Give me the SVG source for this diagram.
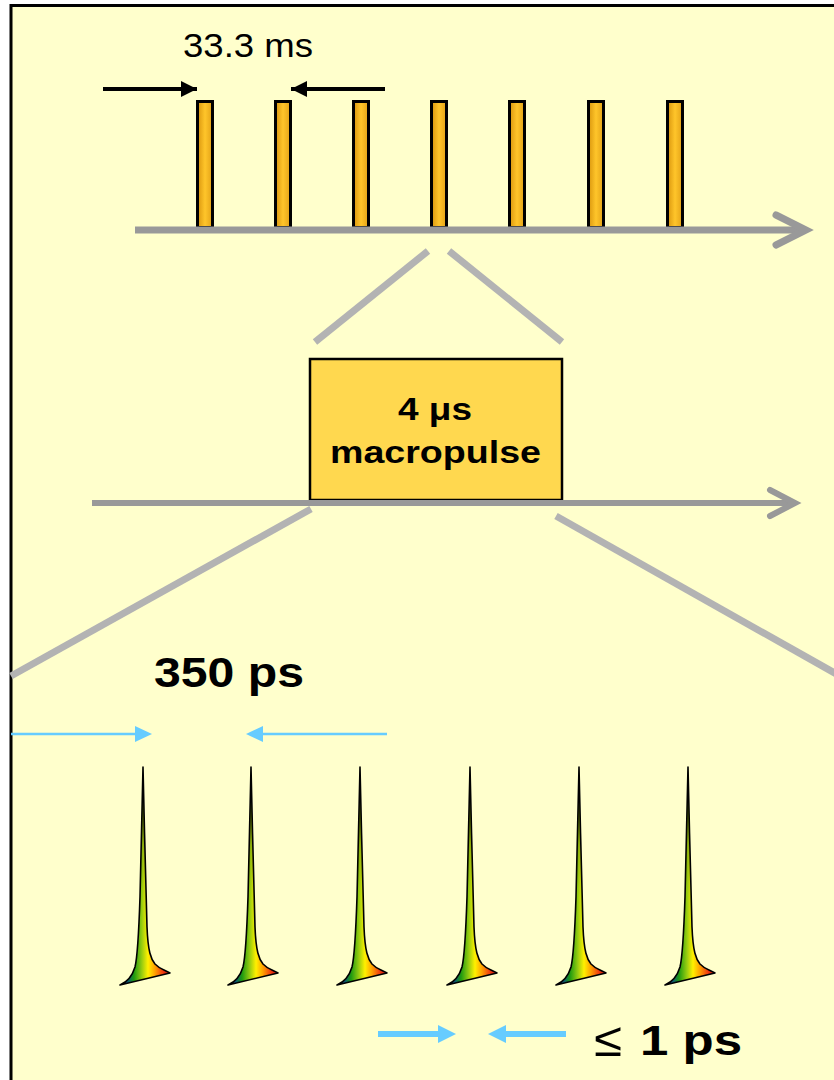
<svg xmlns="http://www.w3.org/2000/svg" width="834" height="1080" viewBox="0 0 834 1080">
  <style>
    .axis { stroke: #999999; stroke-width: 7; fill: none; stroke-linecap: butt; }
    .head { stroke: #999999; stroke-width: 7; fill: none; stroke-linecap: round; stroke-linejoin: miter; }
    .zoom { stroke: #B3B3B3; stroke-width: 7; fill: none; }
    .bar { fill: url(#barFill); stroke: #000000; stroke-width: 3; }
    .peak { fill: url(#rainbow); stroke: none; }
    .peakShade { fill: url(#shade); stroke: #000000; stroke-width: 1.6; stroke-linejoin: round; }
    .label { font-family: "Liberation Sans", Arial, sans-serif; fill: #000000; }
    .bold { font-weight: bold; }
    .blue { stroke: #66CCFF; fill: none; }
  </style>
  <defs>
    <linearGradient id="barFill" x1="0" y1="0" x2="1" y2="0">
      <stop offset="0" stop-color="#D9960E"/>
      <stop offset="0.5" stop-color="#FFC52A"/>
      <stop offset="1" stop-color="#E3A217"/>
    </linearGradient>
    <linearGradient id="rainbow" x1="0" y1="0" x2="1" y2="0">
      <stop offset="0" stop-color="#1A1AB0"/>
      <stop offset="0.16" stop-color="#0A5A70"/>
      <stop offset="0.28" stop-color="#1E9A10"/>
      <stop offset="0.44" stop-color="#9ACD10"/>
      <stop offset="0.56" stop-color="#FFF000"/>
      <stop offset="0.7" stop-color="#FFA000"/>
      <stop offset="0.86" stop-color="#F03A10"/>
      <stop offset="1" stop-color="#C01010"/>
    </linearGradient>
    <linearGradient id="shade" x1="0" y1="0" x2="0" y2="1">
      <stop offset="0" stop-color="#000000" stop-opacity="0.95"/>
      <stop offset="0.12" stop-color="#000000" stop-opacity="0.6"/>
      <stop offset="0.4" stop-color="#000000" stop-opacity="0.12"/>
      <stop offset="0.6" stop-color="#000000" stop-opacity="0"/>
    </linearGradient>
    <marker id="blackHead" viewBox="0 0 10 10" refX="10" refY="5" markerWidth="4" markerHeight="4" orient="auto-start-reverse" markerUnits="strokeWidth">
      <path d="M0,0 L10,5 L0,10 Z" fill="#000000"/>
    </marker>
    <path id="pulse" d="M0,0 C1,50 3,120 4,160 C5,185 8,192 12,197 C15,200 18,202 21,203 L27,206 L-23,218 C-16,215 -11,210 -8,200 C-5,188 -4,160 -3,130 C-2,90 -1,40 0,0 Z"/>
  </defs>

  <!-- slide frame -->
  <rect x="0" y="0" width="834" height="1080" fill="#FFFFFF"/>
  <rect x="11" y="5.5" width="840" height="1090" fill="#FFFFCC" stroke="#000000" stroke-width="3"/>

  <!-- macropulse train (33.3 ms spacing) -->
  <g id="macropulse-train">
    <rect class="bar" x="197.5" y="101.5" width="15" height="126"/>
    <rect class="bar" x="275.5" y="101.5" width="15" height="126"/>
    <rect class="bar" x="353.5" y="101.5" width="15" height="126"/>
    <rect class="bar" x="431.5" y="101.5" width="15" height="126"/>
    <rect class="bar" x="509.5" y="101.5" width="15" height="126"/>
    <rect class="bar" x="588.5" y="101.5" width="15" height="126"/>
    <rect class="bar" x="667.5" y="101.5" width="15" height="126"/>
  </g>

  <g id="spacing-33ms">
    <text class="label" x="183" y="57" font-size="34" textLength="130" lengthAdjust="spacingAndGlyphs">33.3 ms</text>
    <line x1="103" y1="89" x2="197" y2="89" stroke="#000000" stroke-width="4" marker-end="url(#blackHead)"/>
    <line x1="385" y1="89" x2="291" y2="89" stroke="#000000" stroke-width="4" marker-end="url(#blackHead)"/>
  </g>

  <g id="macropulse">
    <rect x="310" y="359" width="252" height="141" fill="#FFD84F" stroke="#000000" stroke-width="2.5"/>
    <text class="label bold" x="398" y="420" font-size="31" textLength="74" lengthAdjust="spacingAndGlyphs">4 μs</text>
    <text class="label bold" x="330" y="463" font-size="31" textLength="211" lengthAdjust="spacingAndGlyphs">macropulse</text>
  </g>

  <g id="spacing-350ps">
    <text class="label bold" x="154" y="687" font-size="42" textLength="150" lengthAdjust="spacingAndGlyphs">350 ps</text>
    <line class="blue" x1="11" y1="734" x2="138" y2="734" stroke-width="2.5"/>
    <path d="M135,726 L152,734 L135,742 Z" fill="#66CCFF"/>
    <line class="blue" x1="387" y1="734" x2="260" y2="734" stroke-width="2.5"/>
    <path d="M263,726 L246,734 L263,742 Z" fill="#66CCFF"/>
  </g>

  <!-- micropulses -->
  <g id="micropulses">
    <g transform="translate(143,767)"><use href="#pulse" class="peak"/><use href="#pulse" class="peakShade"/></g>
    <g transform="translate(251,767)"><use href="#pulse" class="peak"/><use href="#pulse" class="peakShade"/></g>
    <g transform="translate(360,767)"><use href="#pulse" class="peak"/><use href="#pulse" class="peakShade"/></g>
    <g transform="translate(470,767)"><use href="#pulse" class="peak"/><use href="#pulse" class="peakShade"/></g>
    <g transform="translate(579,767)"><use href="#pulse" class="peak"/><use href="#pulse" class="peakShade"/></g>
    <g transform="translate(688,767)"><use href="#pulse" class="peak"/><use href="#pulse" class="peakShade"/></g>
  </g>

  <g id="pulse-length">
    <line class="blue" x1="378" y1="1034" x2="442" y2="1034" stroke-width="6"/>
    <path d="M438,1025 L456,1034 L438,1043 Z" fill="#66CCFF"/>
    <line class="blue" x1="566" y1="1034" x2="502" y2="1034" stroke-width="6"/>
    <path d="M506,1025 L488,1034 L506,1043 Z" fill="#66CCFF"/>
    <text class="label" x="594" y="1056" font-size="48" textLength="28" lengthAdjust="spacingAndGlyphs">≤</text>
    <text class="label bold" x="640" y="1055" font-size="42" textLength="102" lengthAdjust="spacingAndGlyphs">1 ps</text>
  </g>

  <!-- time axes and zoom lines -->
  <g id="connectors">
    <line class="axis" x1="135" y1="230" x2="803" y2="230"/>
    <polyline class="head" points="776,215 806,230 776,245"/>
    <line class="zoom" x1="428" y1="251" x2="315" y2="342"/>
    <line class="zoom" x1="449" y1="251" x2="562" y2="342"/>
    <line class="axis" x1="92" y1="503" x2="792" y2="503" style="stroke-width:6"/>
    <polyline class="head" points="770,490 795,503 770,516" style="stroke-width:6"/>
    <line class="zoom" x1="311" y1="509" x2="11" y2="676"/>
    <line class="zoom" x1="556" y1="516" x2="840" y2="676"/>
  </g>
</svg>
